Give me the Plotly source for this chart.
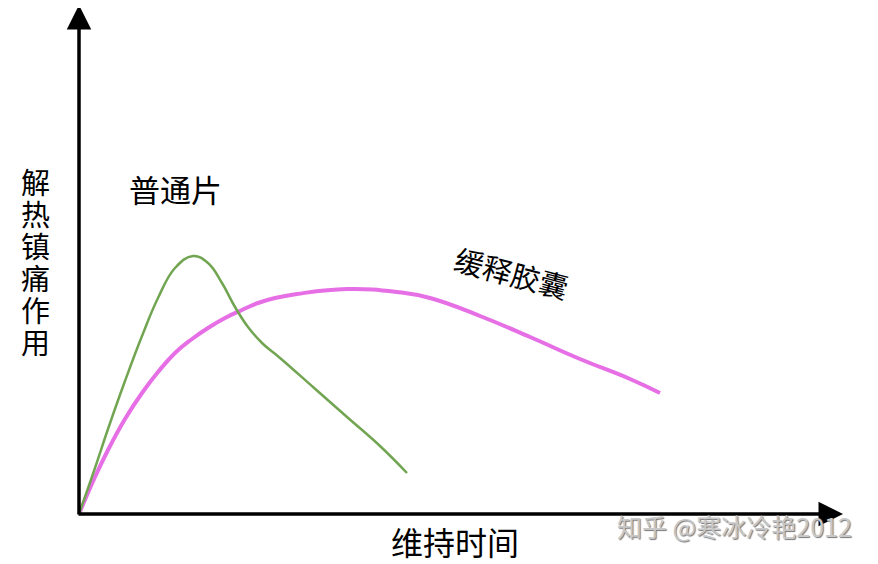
import plotly.graph_objects as go

# curve samples (time, effect), origin at the axes corner
plain_x = [0, 16, 29, 46, 63, 79, 96, 114, 129, 143, 156, 169, 183, 201, 234, 268, 301, 328]
plain_y = [0, 46, 85, 133, 178, 216, 246, 258, 251, 231, 207, 187, 171, 156, 127, 97, 68, 41]

slow_x = [0, 16, 29, 46, 63, 79, 96, 113, 129, 146, 163, 179, 196, 218, 268, 318, 351,
          401, 451, 501, 551, 581]
slow_y = [0, 37, 64, 95, 121, 142, 161, 175, 186, 196, 204, 211, 216, 220, 225, 222, 216,
          198, 177, 155, 135, 121]

y_label = ["解", "热", "镇", "痛", "作", "用"]
x_label = "维持时间"
plain_name = "普通片"
slow_name = "缓释胶囊"
mark = "知乎 @寒冰冷艳2012"

cjk = "Noto Sans CJK SC"

fig = go.Figure()
fig.add_trace(go.Scatter(x=slow_x, y=slow_y, mode="lines",
                         line=dict(color="#e66fe6", width=4, shape="spline", smoothing=1.3)))
fig.add_trace(go.Scatter(x=plain_x, y=plain_y, mode="lines",
                         line=dict(color="#72a552", width=2.5, shape="spline", smoothing=1.2)))

# axes with arrow heads
fig.add_annotation(x=0, y=509, ax=0, ay=-2, xref="x", yref="y", axref="x", ayref="y",
                   text="", showarrow=True, arrowhead=2, arrowsize=1.4,
                   arrowwidth=3.5, arrowcolor="black")
fig.add_annotation(x=764, y=0, ax=-2, ay=0, xref="x", yref="y", axref="x", ayref="y",
                   text="", showarrow=True, arrowhead=2, arrowsize=1.4,
                   arrowwidth=3.5, arrowcolor="black")

for i, ch in enumerate(y_label):
    fig.add_annotation(x=-44, y=333 - 32 * i, text=ch, showarrow=False,
                       font=dict(family=cjk, size=29, color="black"))

fig.add_annotation(x=376, y=-27, text=x_label, showarrow=False,
                   font=dict(family=cjk, size=32, color="black"))
fig.add_annotation(x=96, y=326, text=plain_name, showarrow=False,
                   font=dict(family=cjk, size=31, color="black"))
fig.add_annotation(x=433, y=242, text=slow_name, showarrow=False, textangle=15,
                   font=dict(family=cjk, size=29, color="black"))
fig.add_annotation(x=655, y=-12, text=mark, showarrow=False,
                   font=dict(family=cjk, size=25, color="#c8c8c8",
                             shadow="1px 1px 1px #777"))

# page body has an 8px margin, so the figure sits at (8, 8) in the window
fig.update_xaxes(range=[-71, 799], visible=False)
fig.update_yaxes(range=[-50, 506], visible=False)
fig.update_layout(width=870, height=556, margin=dict(l=0, r=0, t=0, b=0),
                  showlegend=False, plot_bgcolor="white", paper_bgcolor="white")

fig.write_html("out.html")
